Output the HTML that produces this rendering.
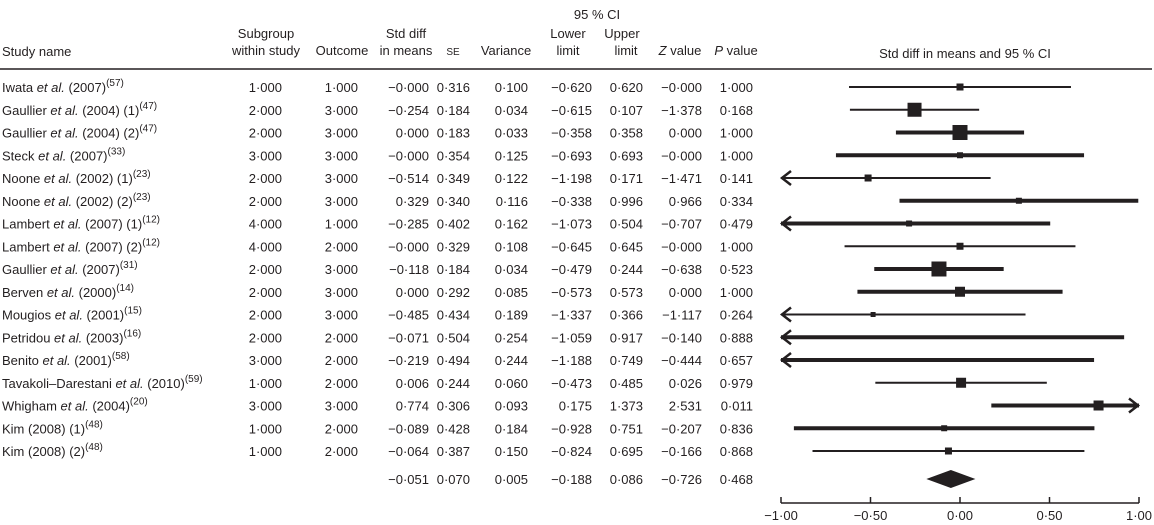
<!DOCTYPE html>
<html><head><meta charset="utf-8"><style>
html,body{margin:0;padding:0;background:#fff;}
svg{display:block;font-family:"Liberation Sans",sans-serif;font-size:13px;fill:#231f20;}
</style></head><body>
<svg id="chart" width="1154" height="525" viewBox="0 0 1154 525" xmlns="http://www.w3.org/2000/svg">
<g>
<text x="597" y="19" text-anchor="middle">95 % CI</text>
<text x="2" y="56">Study name</text>
<text x="266" y="38" text-anchor="middle">Subgroup</text>
<text x="266" y="55" text-anchor="middle">within study</text>
<text x="342" y="55" text-anchor="middle">Outcome</text>
<text x="406" y="38" text-anchor="middle">Std diff</text>
<text x="406" y="55" text-anchor="middle">in means</text>
<text x="453" y="55" text-anchor="middle" font-size="10">SE</text>
<text x="506" y="55" text-anchor="middle">Variance</text>
<text x="568" y="38" text-anchor="middle">Lower</text>
<text x="568" y="55" text-anchor="middle">limit</text>
<text x="622" y="38" text-anchor="middle">Upper</text>
<text x="626" y="55" text-anchor="middle">limit</text>
<text x="680" y="55" text-anchor="middle"><tspan font-style="italic">Z</tspan> value</text>
<text x="736" y="55" text-anchor="middle"><tspan font-style="italic">P</tspan> value</text>
<text x="965" y="58" text-anchor="middle">Std diff in means and 95 % CI</text>
<line x1="0" y1="69" x2="1152" y2="69" stroke="#231f20" stroke-width="1.5"/>
</g>
<g id="rows"></g>
<g id="plot"></g>
</svg>
<script>
const studies=["Iwata|(2007)|57","Gaullier|(2004) (1)|47","Gaullier|(2004) (2)|47","Steck|(2007)|33","Noone|(2002) (1)|23","Noone|(2002) (2)|23","Lambert|(2007) (1)|12","Lambert|(2007) (2)|12","Gaullier|(2007)|31","Berven|(2000)|14","Mougios|(2001)|15","Petridou|(2003)|16","Benito|(2001)|58","Tavakoli–Darestani|(2010)|59","Whigham|(2004)|20","Kim (2008) (1)||48","Kim (2008) (2)||48"];
const subgroup=[1,2,2,3,2,2,4,4,2,2,2,2,3,1,3,1,1];
const outcome=[1,3,3,3,3,3,1,2,3,3,3,2,2,2,3,2,2];
const stdDiff=["−0·000","−0·254","0·000","−0·000","−0·514","0·329","−0·285","−0·000","−0·118","0·000","−0·485","−0·071","−0·219","0·006","0·774","−0·089","−0·064"];
const se=[0.316,0.184,0.183,0.354,0.349,0.340,0.402,0.329,0.184,0.292,0.434,0.504,0.494,0.244,0.306,0.428,0.387];
const variance=[0.100,0.034,0.033,0.125,0.122,0.116,0.162,0.108,0.034,0.085,0.189,0.254,0.244,0.060,0.093,0.184,0.150];
const lower=[-0.620,-0.615,-0.358,-0.693,-1.198,-0.338,-1.073,-0.645,-0.479,-0.573,-1.337,-1.059,-1.188,-0.473,0.175,-0.928,-0.824];
const upper=[0.620,0.107,0.358,0.693,0.171,0.996,0.504,0.645,0.244,0.573,0.366,0.917,0.749,0.485,1.373,0.751,0.695];
const zval=["−0·000","−1·378","0·000","−0·000","−1·471","0·966","−0·707","−0·000","−0·638","0·000","−1·117","−0·140","−0·444","0·026","2·531","−0·207","−0·166"];
const pval=[1.000,0.168,1.000,1.000,0.141,0.334,0.479,1.000,0.523,1.000,0.264,0.888,0.657,0.979,0.011,0.836,0.868];
const boxSize=[7,14,15,6,7,6,6,7,15,10,5,3,3,10,10,6,7];
const thick=[0,0,1,1,0,1,1,0,1,1,0,1,1,0,1,1,0];
const summary=["−0·051","0·070","0·005","−0·188","0·086","−0·726","0·468"];
const sumMean=-0.051, sumLower=-0.188, sumUpper=0.086;
const ticks=[-1,-0.5,0,0.5,1];
const tickLabels=["−1·00","−0·50","0·00","0·50","1·00"];

const NS="http://www.w3.org/2000/svg";
const xs=v=>960+v*179;
const ys=i=>87+i*22.75;
const f=v=>v.toFixed(3).replace('.', '·').replace('-', '−');
function el(tag,attrs,parent){const e=document.createElementNS(NS,tag);for(const k in attrs)e.setAttribute(k,attrs[k]);parent.appendChild(e);return e;}
function txt(x,y,s,parent,anchor){const t=el('text',{x:x,y:y,'text-anchor':anchor||'end'},parent);t.textContent=s;return t;}
const rows=document.getElementById('rows'), plot=document.getElementById('plot');
const cols=[282,358,429,470,528,592,643,702,753];
studies.forEach((s,i)=>{
  const y=ys(i)+5;
  const g=el('g',{},rows);
  
  
  const [a,b,r]=s.split('|');
  const t=el('text',{x:2,y:y},g);
  if(b){t.appendChild(document.createTextNode(a+' '));const it=el('tspan',{'font-style':'italic'},t);it.textContent='et al.';t.appendChild(document.createTextNode(' '+b));}
  else t.appendChild(document.createTextNode(a));
  const sp=el('tspan',{dy:-6,'font-size':10},t);sp.textContent='('+r+')';
  const vals=[f(subgroup[i]),f(outcome[i]),stdDiff[i],f(se[i]),f(variance[i]),f(lower[i]),f(upper[i]),zval[i],f(pval[i])];
  vals.forEach((v,j)=>txt(cols[j],y,v,g));
  const pg=el('g',{},plot);
  
  
  const lo=Math.max(lower[i],-1), hi=Math.min(upper[i],1), yc=ys(i);
  const sw=thick[i]?4:2;
  el('line',{x1:xs(lo),y1:yc,x2:xs(hi),y2:yc,stroke:'#231f20','stroke-width':sw},pg);
  if(lower[i]<-1) el('polyline',{points:`${xs(-1)+10},${yc-7} ${xs(-1)+1},${yc} ${xs(-1)+10},${yc+7}`,fill:'none',stroke:'#231f20','stroke-width':2.5},pg);
  if(upper[i]>1) el('polyline',{points:`${xs(1)-10},${yc-7} ${xs(1)-1},${yc} ${xs(1)-10},${yc+7}`,fill:'none',stroke:'#231f20','stroke-width':2.5},pg);
  const m=(lower[i]+upper[i])/2, b2=boxSize[i];
  el('rect',{x:xs(m)-b2/2,y:yc-b2/2,width:b2,height:b2,fill:'#231f20'},pg);
});
const sg=el('g',{},rows);


summary.forEach((v,j)=>txt(cols[j+2],484,v,sg));
const d=el('polygon',{points:`${xs(sumLower)},479 ${xs(sumMean)},470 ${xs(sumUpper)},479 ${xs(sumMean)},488`,fill:'#231f20'},plot);


const ax=el('g',{},plot);


el('line',{x1:xs(-1),y1:503,x2:xs(1),y2:503,stroke:'#231f20','stroke-width':1.5},ax);
ticks.forEach((t,k)=>{el('line',{x1:xs(t),y1:497,x2:xs(t),y2:503,stroke:'#231f20','stroke-width':1.5},ax);txt(xs(t),520,tickLabels[k],ax,'middle');});
</script>
</body></html>
